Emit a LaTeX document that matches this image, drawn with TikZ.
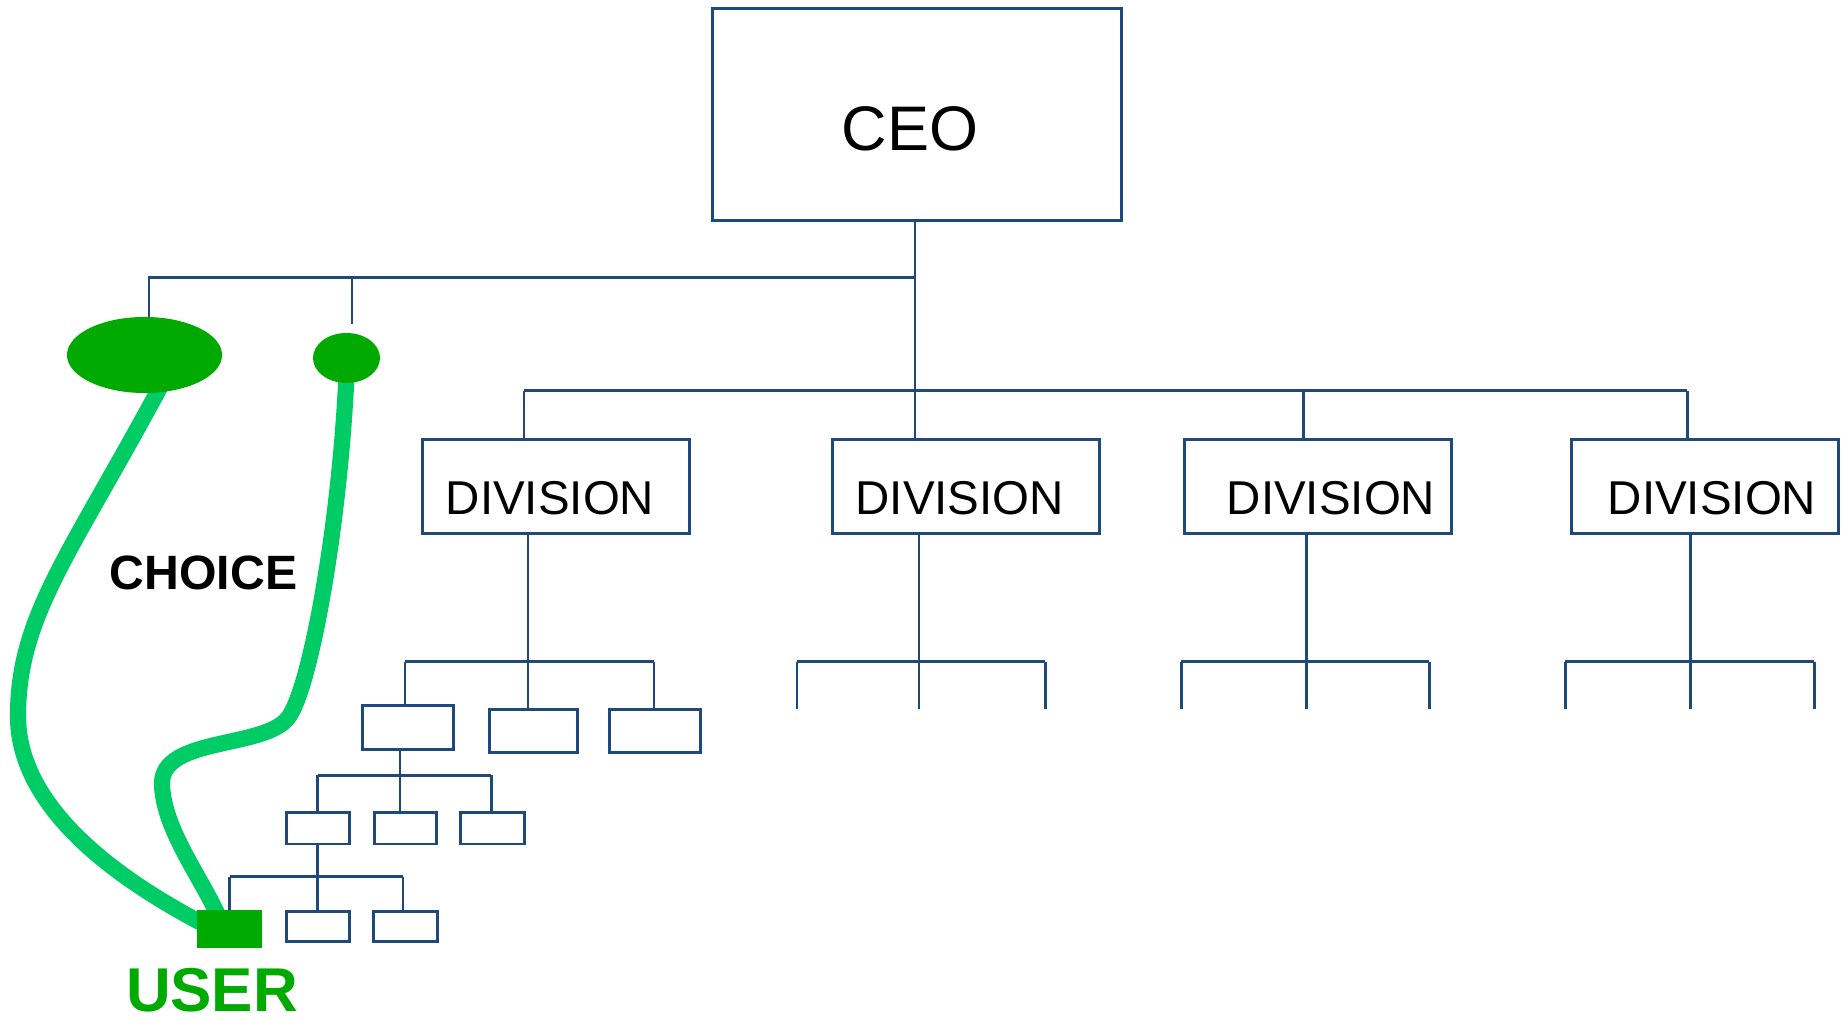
\documentclass[tikz,border=0pt]{standalone}
\usepackage{fontspec}
\setmainfont{Liberation Sans}
\usetikzlibrary{shapes.geometric,backgrounds}
\definecolor{orgblue}{HTML}{1F497D}
\definecolor{dkgreen}{HTML}{00AA00}
\definecolor{ltgreen}{HTML}{00CC66}
\begin{document}
\begin{tikzpicture}[x=0.01cm,y=-0.01cm,
  box/.style={draw=orgblue,line width=0.85pt,rectangle,inner sep=0pt,outer sep=0pt},
  conn/.style={draw=orgblue,line width=0.85pt},
  choiceline/.style={draw=ltgreen,line width=4.6pt},
  lbl/.style={anchor=base,inner sep=0pt,outer sep=0pt},
  ceofont/.style={font=\fontsize{17.9}{20}\selectfont},
  divfont/.style={font=\fontsize{13.5}{16}\selectfont},
  green1/.style={fill=dkgreen,draw=none,inner sep=0pt,outer sep=0pt}]
\useasboundingbox (0,0) rectangle (1841,1019);

% CEO and divisions
\node[box,minimum width=4.086cm,minimum height=2.125cm] (ceo) at (917,114.5) {};
\node[lbl,ceofont] (ceot) at (910,151) {CEO};
\foreach \n/\x/\tx in {d1/556/550, d2/965.7/959.8, d3/1318/1331, d4/1705.3/1712}{
  \node[box,minimum width=2.665cm,minimum height=0.93cm] (\n) at (\x,486.5) {};
  \node[lbl,divfont] (\n t) at (\tx,515) {DIVISION};
}

% small boxes
\node[box,minimum width=0.91cm,minimum height=0.44cm] (A) at (408,727.5) {};
\node[box,minimum width=0.88cm,minimum height=0.435cm] (B) at (533.7,731) {};
\node[box,minimum width=0.915cm,minimum height=0.435cm] (C) at (655,731) {};
\node[box,minimum width=0.62cm,minimum height=0.31cm] (D) at (318,828.5) {};
\node[box,minimum width=0.625cm,minimum height=0.31cm] (E) at (405.7,828.5) {};
\node[box,minimum width=0.64cm,minimum height=0.31cm] (F) at (492.3,828.5) {};
\node[box,minimum width=0.62cm,minimum height=0.30cm] (G) at (318,926.5) {};
\node[box,minimum width=0.63cm,minimum height=0.30cm] (H) at (405.5,926.5) {};

% green nodes
\node[green1,ellipse,minimum width=1.55cm,minimum height=0.76cm] (e1) at (144.5,355) {};
\node[green1,ellipse,minimum width=0.67cm,minimum height=0.50cm] (e2) at (346.5,358) {};
\node[green1,rectangle,minimum width=0.645cm,minimum height=0.37cm] (user) at (229.5,929) {};

% labels
\node[lbl,font=\bfseries\fontsize{13.7}{16}\selectfont] (choice) at (203.5,590) {CHOICE};
\node[lbl,font=\bfseries\fontsize{17.6}{20}\selectfont,text=dkgreen] (usert) at (212,1012) {USER};

% top level connectors
\coordinate (b1) at (915,278);
\coordinate (b2) at (915,391);
\coordinate (u1) at (149,278);
\coordinate (u2) at (352,278);
\coordinate (u2e) at (352,324);
\coordinate (l1) at (524,391);
\coordinate (l3) at (1303,391);
\coordinate (l4) at (1687,391);
\draw[conn] (b1 |- ceo.south) -- (b2 |- d2.north);
\draw[conn] (b1) -- (u1) -- (u1 |- e1.north);
\draw[conn] (u2) -- (u2e);
\draw[conn] (l1) -- (l4);
\draw[conn] (l1) -- (l1 |- d1.north);
\draw[conn] (l3) -- (l3 |- d3.north);
\draw[conn] (l4) -- (l4 |- d4.north);

% open sub-trees of divisions 2-4
\foreach \n/\s/\l/\r in {d2/919/797/1045, d3/1306/1181/1429, d4/1690/1565/1814}{
  \coordinate (st) at (\s,662);
  \coordinate (sl) at (\l,662);
  \coordinate (sr) at (\r,662);
  \coordinate (el) at (\l,709);
  \coordinate (em) at (\s,709);
  \coordinate (er) at (\r,709);
  \draw[conn] (st |- \n.south) -- (st);
  \draw[conn] (sl) -- (sr);
  \draw[conn] (sl) -- (el);
  \draw[conn] (st) -- (em);
  \draw[conn] (sr) -- (er);
}

% division 1 subtree
\coordinate (s1) at (528,662);
\coordinate (t1l) at (405,662);
\coordinate (t1r) at (654,662);
\draw[conn] (s1 |- d1.south) -- (s1);
\draw[conn] (t1l) -- (t1r);
\draw[conn] (t1l) -- (t1l |- A.north);
\draw[conn] (s1) -- (s1 |- B.north);
\draw[conn] (t1r) -- (t1r |- C.north);

\coordinate (s2) at (400,775.5);
\coordinate (t2l) at (317.6,775.5);
\coordinate (t2r) at (491.4,775.5);
\draw[conn] (s2 |- A.south) -- (s2 |- E.north);
\draw[conn] (t2l) -- (t2r);
\draw[conn] (t2l) -- (t2l |- D.north);
\draw[conn] (t2r) -- (t2r |- F.north);

\coordinate (s3) at (317.6,877);
\coordinate (t3l) at (229.6,877);
\coordinate (t3r) at (403,877);
\draw[conn] (s3 |- D.south) -- (s3 |- G.north);
\draw[conn] (t3l) -- (t3r);
\draw[conn] (t3l) -- (t3l |- user.north);
\draw[conn] (t3r) -- (t3r |- H.north);

% choice curves
\begin{scope}[on background layer]
\draw[choiceline] ([yshift=0.8mm]e1.-65) .. controls (70,555) and (18,616) .. (18,716)
   .. controls (18,800) and (100,870) .. ([xshift=0.8mm,yshift=0.4mm]user.west);
\draw[choiceline] ([yshift=0.8mm]e2.south) .. controls (340,520) and (312,680) .. (290,715)
   .. controls (270,750) and (160,735) .. (162,785)
   .. controls (164,830) and (200,875) .. ([xshift=-1mm,yshift=-0.8mm]user.north);
\end{scope}
\end{tikzpicture}
\end{document}
